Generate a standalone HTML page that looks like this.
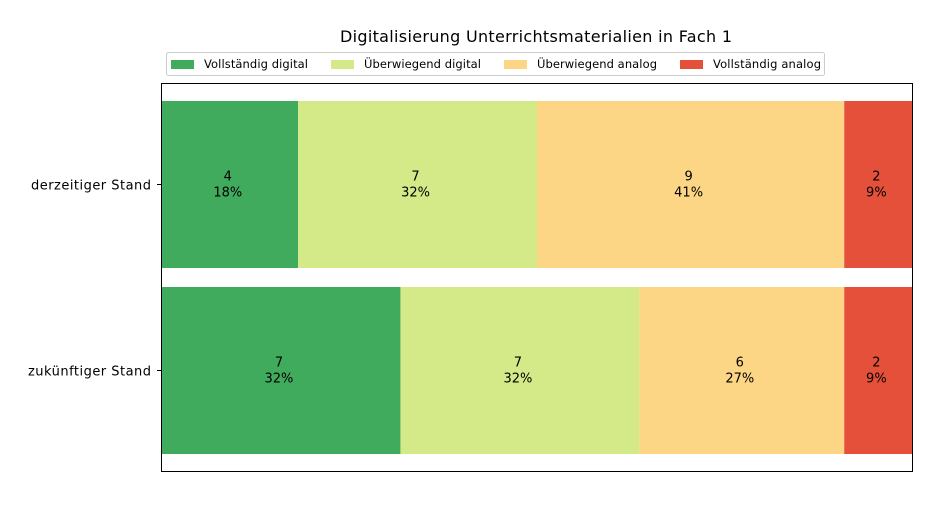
<!DOCTYPE html>
<html><head><meta charset="utf-8"><style>
body{margin:0;background:#fff;}
svg text{font-family:"DejaVu Sans","Liberation Sans",sans-serif;}
</style></head><body>
<svg width="940" height="500" xmlns="http://www.w3.org/2000/svg">
<text x="536" y="42" text-anchor="middle" font-size="16" textLength="392">Digitalisierung Unterrichtsmaterialien in Fach 1</text>
<g id="legend">
<rect x="166.5" y="52.5" width="658" height="23" rx="2" fill="#fff" stroke="#ccc"/>
</g>
<g id="bars"></g>
<rect x="161.5" y="83.5" width="751" height="388" fill="none" stroke="#000"/>
<g id="yaxis"></g>
</svg>
<script>
const categories=["derzeitiger Stand","zukünftiger Stand"];
const seriesNames=["Vollständig digital","Überwiegend digital","Überwiegend analog","Vollständig analog"];
const vollDigital=[4,7];
const uebDigital=[7,7];
const uebAnalog=[9,6];
const vollAnalog=[2,2];
const colors=["#41ab5d","#d4ea88","#fdd685","#e4503a"];
const series=[vollDigital,uebDigital,uebAnalog,vollAnalog];
const NS="http://www.w3.org/2000/svg";
const svg=document.querySelector('svg');
const x0=161.5,x1=912.5;
const rowCenters=[184.5,370.5],barH=167;
const ylabLen=[120,123];
function mk(t,a,p){const e=document.createElementNS(NS,t);for(const k in a)e.setAttribute(k,a[k]);(p||svg).appendChild(e);return e;}
const gb=document.getElementById('bars');
categories.forEach((c,i)=>{
 const total=series.reduce((s,a)=>s+a[i],0);
 const xs=v=>x0+(x1-x0)*v/total;
 let cum=0;
 series.forEach((s,j)=>{
  const v=s[i];
  const r=mk('rect',{x:xs(cum),y:rowCenters[i]-barH/2,width:xs(cum+v)-xs(cum),height:barH,fill:colors[j]},gb);
  
  
  const cx=(xs(cum)+xs(cum+v))/2-2;
  const t1=mk('text',{x:cx,y:rowCenters[i]-4,'text-anchor':'middle','font-size':13},gb);
  t1.textContent=v;
  
  
  const t2=mk('text',{x:cx,y:rowCenters[i]+12,'text-anchor':'middle','font-size':13},gb);
  t2.textContent=Math.round(v/total*100)+'%';
  
  
  cum+=v;
 });
 const ya=document.getElementById('yaxis');
 mk('line',{x1:157,x2:161.5,y1:rowCenters[i],y2:rowCenters[i],stroke:'#000'},ya);
 const yl=mk('text',{x:151,y:rowCenters[i]+5,'text-anchor':'end','font-size':13,textLength:ylabLen[i]},ya);
 yl.textContent=c;
 
 
});
const lg=document.getElementById('legend');
const lx=[171,331,504,680];
const lw=[104,117,120,108];
seriesNames.forEach((n,j)=>{
 const p=mk('rect',{x:lx[j],y:60,width:23,height:9,fill:colors[j]},lg);
 
 
 const t=mk('text',{x:lx[j]+33,y:68,'font-size':11.5,textLength:lw[j]},lg);
 t.textContent=n;
 
 
});
</script>
</body></html>
